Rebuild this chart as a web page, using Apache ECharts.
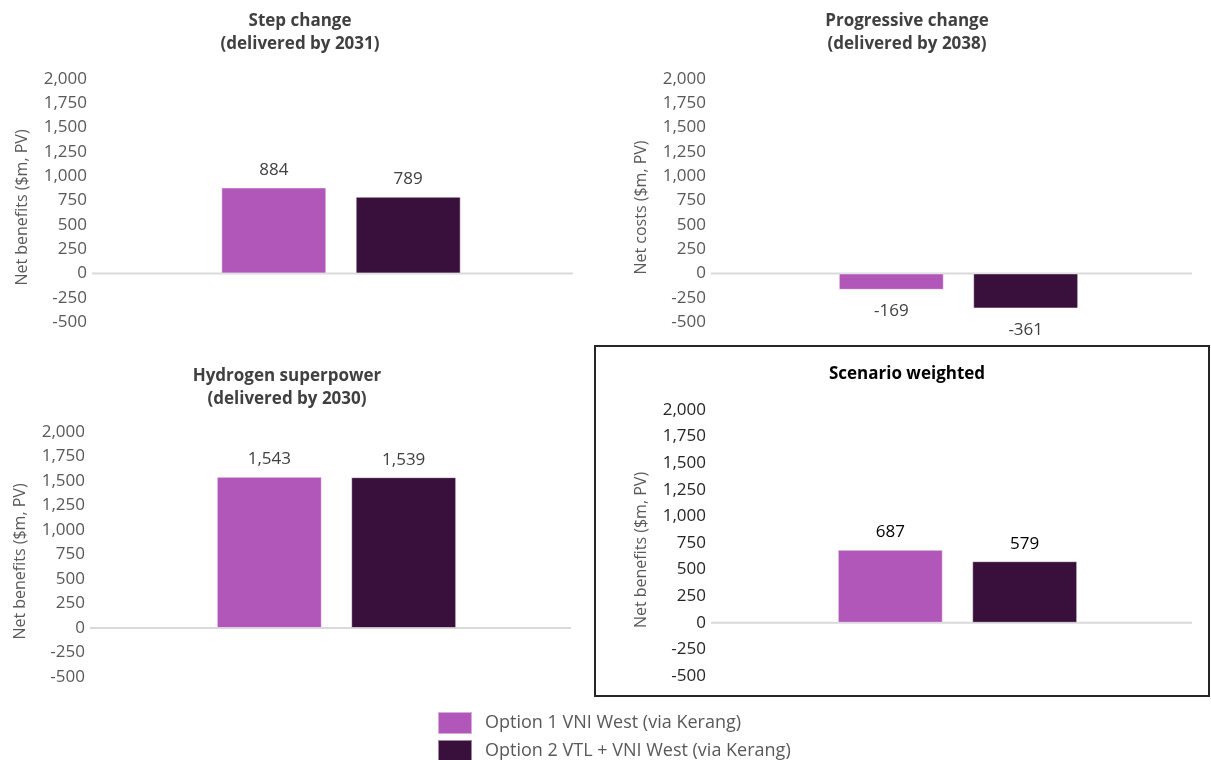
<!DOCTYPE html>
<html>
<head>
<meta charset="utf-8">
<title>Net benefits by scenario</title>
<script src="https://cdn.jsdelivr.net/npm/echarts@6/dist/echarts.min.js"></script>
<style>
  html, body { margin: 0; padding: 0; background: #fff; }
  #main { width: 1211px; height: 760px; }
</style>
</head>
<body>
<div id="main"></div>
<script>
// data
var panelTitles = [
  'Step change\n(delivered by 2031)',
  'Progressive change\n(delivered by 2038)',
  'Hydrogen superpower\n(delivered by 2030)',
  'Scenario weighted'
];
var axisNames = [
  'Net benefits ($m, PV)',
  'Net costs ($m, PV)',
  'Net benefits ($m, PV)',
  'Net benefits ($m, PV)'
];
var seriesNames = ['Option 1 VNI West (via Kerang)', 'Option 2 VTL + VNI West (via Kerang)'];
var option1Values = [884, -169, 1543, 687];
var option2Values = [789, -361, 1539, 579];
var yTicks = { min: -500, max: 2000, step: 250 };

var colors = ['#B057B9', '#390F3C'];
var font = '"Open Sans", sans-serif';

// panel boxes (grid areas); lineW = length of the zero line drawn from grid left
var grids = [
  { left: 92,  top: 79,  width: 498, height: 243 },
  { left: 711, top: 79,  width: 495, height: 243 },
  { left: 90,  top: 432, width: 493, height: 245 },
  { left: 711, top: 410, width: 493, height: 266 }
];
var lineW = [481, 481, 481, 481];
var titlePos = [
  { x: 300, y: 10 },
  { x: 907, y: 10 },
  { x: 287, y: 365 },
  { x: 907, y: 363 }
];

function fmt(v) {
  return v.toLocaleString('en-US');
}

var myChart = echarts.init(document.getElementById('main'));

var titles = [], xAxes = [], yAxes = [], series = [];
for (var i = 0; i < 4; i++) {
  var dark = i === 3;
  titles.push({
    text: panelTitles[i],
    left: titlePos[i].x,
    top: titlePos[i].y,
    textAlign: 'center',
    padding: 0,
    textStyle: {
      fontFamily: font,
      fontSize: 17,
      fontWeight: 'bold',
      color: dark ? '#000' : '#404040',
      lineHeight: 23
    }
  });
  xAxes.push({
    type: 'category',
    gridIndex: i,
    data: [''],
    axisLine: { show: false },
    axisTick: { show: false },
    axisLabel: { show: false }
  });
  yAxes.push({
    type: 'value',
    gridIndex: i,
    min: yTicks.min,
    max: yTicks.max,
    interval: yTicks.step,
    name: axisNames[i],
    nameLocation: 'middle',
    nameGap: 62,
    nameTextStyle: { fontFamily: font, fontSize: 16, color: '#595959', padding: [0, 14, 0, 0] },
    axisLine: { show: false },
    axisTick: { show: false },
    splitLine: { show: false },
    axisLabel: {
      fontFamily: font,
      fontSize: 17,
      margin: 5,
      color: dark ? '#262626' : '#595959',
      formatter: function (v) { return fmt(v); }
    }
  });
  [option1Values, option2Values].forEach(function (vals, k) {
    series.push({
      name: seriesNames[k],
      type: 'bar',
      xAxisIndex: i,
      yAxisIndex: i,
      barWidth: 105,
      barGap: '28%',
      itemStyle: { color: colors[k], borderColor: 'rgba(255,255,255,0.5)', borderWidth: 1 },
      label: {
        show: true,
        position: vals[i] < 0 ? 'bottom' : 'top',
        distance: vals[i] < 0 ? 13 : 9,
        fontFamily: font,
        fontSize: 17,
        color: dark ? '#000' : '#404040',
        formatter: function (p) { return fmt(p.value); }
      },
      data: [vals[i]]
    });
  });
}

var legendText = { fontFamily: font, fontSize: 18, color: '#595959', padding: [0, 0, 0, 8] };
var legends = seriesNames.map(function (name, k) {
  return {
    data: [name],
    left: 437,
    top: 711 + k * 28,
    padding: 0,
    itemWidth: 34,
    itemHeight: 22,
    icon: 'rect',
    textStyle: legendText
  };
});

var option = {
  animation: false,
  title: titles,
  grid: grids,
  xAxis: xAxes,
  yAxis: yAxes,
  series: series,
  legend: legends,
  graphic: [{
    type: 'rect',
    shape: { x: 595, y: 346, width: 614, height: 350 },
    style: { fill: 'none', stroke: '#262626', lineWidth: 2 },
    z: -1
  }]
};

myChart.setOption(option);

// zero baselines, placed through each panel's y scale
var zeroLines = grids.map(function (g, idx) {
  var y = myChart.convertToPixel({ yAxisIndex: idx }, 0);
  return {
    type: 'line',
    shape: { x1: g.left, y1: y, x2: g.left + lineW[idx], y2: y },
    style: { stroke: '#D9D9D9', lineWidth: 2 },
    z: 1
  };
});
myChart.setOption({ graphic: option.graphic.concat(zeroLines) });
</script>
</body>
</html>
